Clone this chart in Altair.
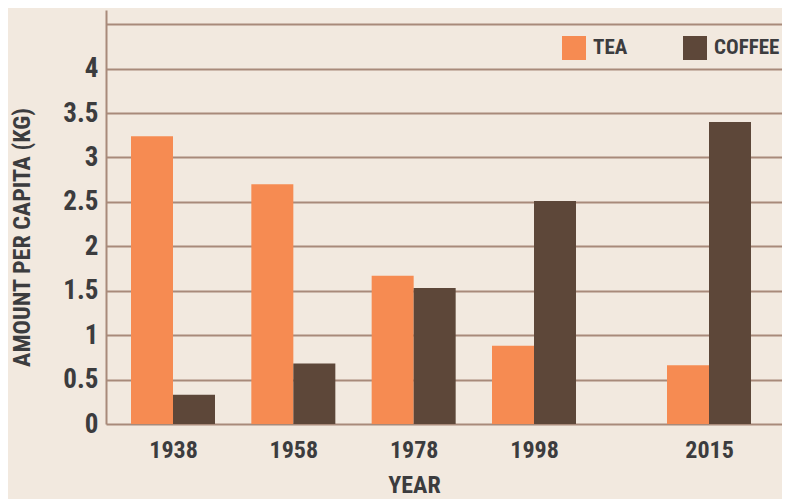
import altair as alt
import pandas as pd

years = [1938, 1958, 1978, 1998, 2015]
tea = [3.24, 2.70, 1.67, 0.88, 0.66]
coffee = [0.33, 0.68, 1.53, 2.51, 3.40]
drinks = ["TEA", "COFFEE"]
colors = ["#f68b52", "#5d4739"]
y_ticks = [0, 0.5, 1, 1.5, 2, 2.5, 3, 3.5, 4, 4.5]

rows = []
for y, t, c in zip(years, tea, coffee):
    rows.append({"year": y, "drink": "TEA", "value": t})
    rows.append({"year": y, "drink": "COFFEE", "value": c})
df = pd.DataFrame(rows)

FONT = "Roboto Condensed, DejaVu Sans Condensed, Liberation Sans Narrow, Arial Narrow, Roboto, sans-serif"
TEXT = "#3c3c3e"
GRID = "#a88a7a"

x_enc = alt.X(
    "year:Q",
    scale=alt.Scale(domain=[1926, 1938, 1998, 2015, 2022],
                    range=[0, 67, 428, 603, 676], zero=False, nice=False),
    axis=alt.Axis(
        values=years, format="d", grid=False, domain=False, ticks=False,
        labelFont=FONT, labelFontSize=24, labelFontWeight="bold", labelColor=TEXT,
        labelPadding=14,
        title="YEAR", titleFont=FONT, titleFontSize=24, titleFontWeight="bold",
        titleColor=TEXT, titleX=308, titleY=68, titleAlign="center",
        titleBaseline="alphabetic",
    ),
)
y_enc = alt.Y(
    "value:Q",
    scale=alt.Scale(domain=[0, 4.66], nice=False, zero=True),
    axis=alt.Axis(
        values=y_ticks, format=".1~f",
        labelExpr="datum.value == 4.5 ? '' : datum.label",
        grid=True, gridColor=GRID, gridWidth=2,
        domain=True, domainColor=GRID, domainWidth=2,
        ticks=False, labelPadding=8,
        labelFont=FONT, labelFontSize=27, labelFontWeight="bold", labelColor=TEXT,
        title="AMOUNT PER CAPITA (KG)", titleFont=FONT, titleFontSize=24,
        titleFontWeight="bold", titleColor=TEXT,
        titleX=-84, titleY=227, titleAlign="center", titleBaseline="middle",
    ),
)
color_enc = alt.Color(
    "drink:N",
    scale=alt.Scale(domain=drinks, range=colors),
    legend=alt.Legend(
        title=None, orient="none", legendX=456, legendY=26, direction="horizontal",
        columns=2, columnPadding=55, symbolType="square", symbolSize=576,
        symbolStrokeWidth=0, labelOffset=7, padding=0,
        labelFont=FONT, labelFontSize=21, labelFontWeight="bold", labelColor=TEXT,
    ),
)

base = alt.Chart(df)
tea_bars = base.transform_filter(alt.datum.drink == "TEA").mark_bar(size=42, xOffset=-21).encode(
    x=x_enc, y=y_enc, color=color_enc
)
coffee_bars = base.transform_filter(alt.datum.drink == "COFFEE").mark_bar(size=42, xOffset=21).encode(
    x=x_enc, y=y_enc, color=color_enc
)

chart = alt.layer(tea_bars, coffee_bars).properties(
    width=676, height=414,
    background="#f2e9df",
    autosize=alt.AutoSizeParams(type="none"),
    padding={"left": 98, "top": 2, "right": 0, "bottom": 75},
).configure_view(stroke=None)

chart.save("out.html", embed_options={"renderer": "svg", "actions": False})
